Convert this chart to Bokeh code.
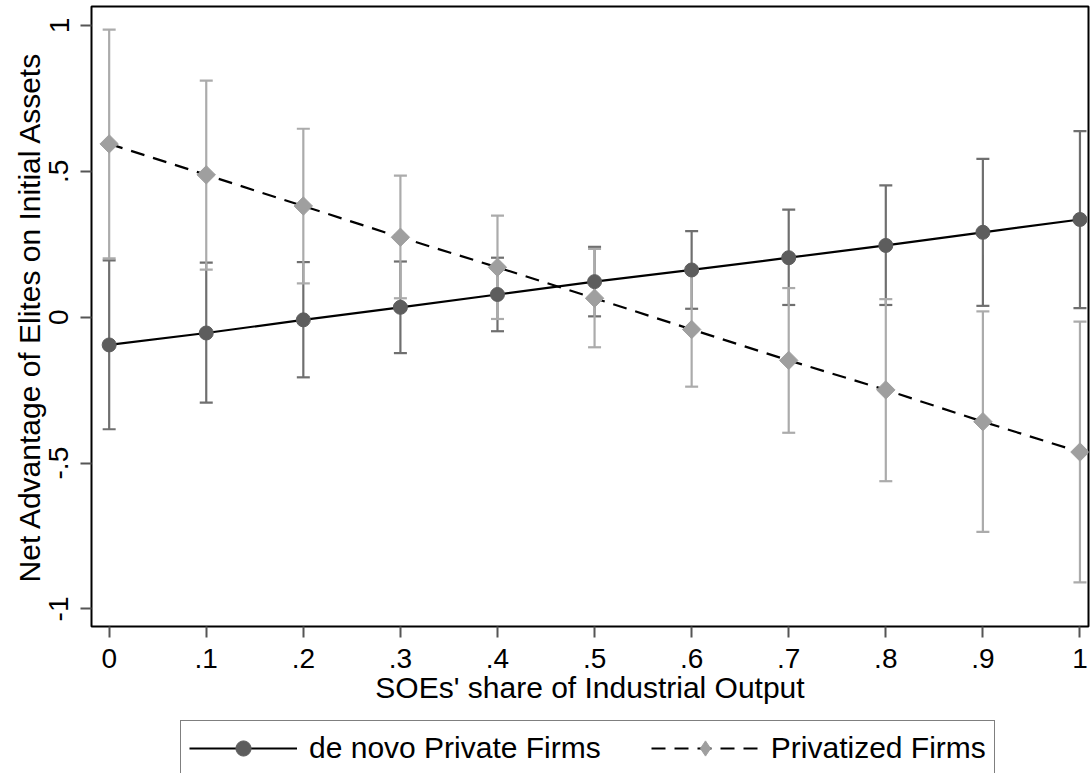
from bokeh.plotting import figure
from bokeh.models import (Range1d, FixedTicker, Whisker, ColumnDataSource, Legend,
                          LegendItem, TeeHead)
from bokeh.layouts import column
from bokeh.embed import file_html
from bokeh.resources import INLINE
import math

# ---- data ----
soe_share = [0.0, 0.1, 0.2, 0.3, 0.4, 0.5, 0.6, 0.7, 0.8, 0.9, 1.0]

denovo = [-0.095, -0.054, -0.009, 0.034, 0.078, 0.122, 0.162, 0.204, 0.246, 0.291, 0.335]
denovo_lo = [-0.384, -0.293, -0.206, -0.123, -0.048, 0.003, 0.029, 0.042, 0.042, 0.039, 0.031]
denovo_hi = [0.195, 0.187, 0.189, 0.191, 0.204, 0.241, 0.295, 0.369, 0.452, 0.543, 0.638]

privatized = [0.594, 0.488, 0.381, 0.274, 0.171, 0.065, -0.042, -0.148, -0.249, -0.358, -0.462]
priv_lo = [0.202, 0.163, 0.116, 0.065, -0.006, -0.103, -0.238, -0.396, -0.562, -0.736, -0.909]
priv_hi = [0.986, 0.811, 0.646, 0.485, 0.348, 0.234, 0.154, 0.100, 0.062, 0.020, -0.015]

x_ticks = [0.0, 0.1, 0.2, 0.3, 0.4, 0.5, 0.6, 0.7, 0.8, 0.9, 1.0]
x_tick_labels = ["0", ".1", ".2", ".3", ".4", ".5", ".6", ".7", ".8", ".9", "1"]
y_ticks = [-1.0, -0.5, 0.0, 0.5, 1.0]
y_tick_labels = ["-1", "-.5", "0", ".5", "1"]

x_title = "SOEs' share of Industrial Output"
y_title = "Net Advantage of Elites on Initial Assets"
series_names = ["de novo Private Firms", "Privatized Firms"]

FONT = "Liberation Sans"
DARK_BAR = "#6f6f6f"
DARK_PT = "#5d5d5d"
LIGHT_BAR = "#ababab"
LIGHT_PT = "#9f9f9f"

src_d = ColumnDataSource(dict(x=soe_share, y=denovo, lo=denovo_lo, hi=denovo_hi))
src_p = ColumnDataSource(dict(x=soe_share, y=privatized, lo=priv_lo, hi=priv_hi))

MAIN_H = 718
LEG_H = 55
LEFT = 91

p = figure(width=1090, height=MAIN_H, output_backend="svg", toolbar_location=None,
           x_range=Range1d(-0.0182, 1.0088), y_range=Range1d(-1.060, 1.065),
           min_border_top=6, min_border_right=2, min_border_left=LEFT,
           min_border_bottom=MAIN_H - 626)
p.background_fill_color = "white"
p.border_fill_color = "white"
p.outline_line_color = "black"
p.outline_line_width = 2
p.xgrid.visible = False
p.ygrid.visible = False

# error bars
for src, col in ((src_d, DARK_BAR), (src_p, LIGHT_BAR)):
    w = Whisker(source=src, base="x", lower="lo", upper="hi", dimension="height",
                line_color=col, line_width=2.2,
                upper_head=TeeHead(size=13, line_color=col, line_width=2.2),
                lower_head=TeeHead(size=13, line_color=col, line_width=2.2),
                level="underlay")
    p.add_layout(w)

p.line("x", "y", source=src_d, line_color="black", line_width=2.2)
p.line("x", "y", source=src_p, line_color="black", line_width=2.2, line_dash="14 9")
p.scatter("x", "y", source=src_d, marker="circle", size=14,
          fill_color=DARK_PT, line_color=DARK_PT)
p.scatter("x", "y", source=src_p, marker="square", size=13, angle=math.pi / 4,
          fill_color=LIGHT_PT, line_color=LIGHT_PT)

# axes
for ax in (p.xaxis[0], p.yaxis[0]):
    ax.axis_line_color = None
    ax.major_tick_line_color = "#555555"
    ax.major_tick_line_width = 2
    ax.major_tick_out = 11
    ax.major_tick_in = 0
    ax.minor_tick_line_color = None
    ax.major_label_text_font = FONT
    ax.major_label_text_color = "black"
    ax.axis_label_text_font = FONT
    ax.axis_label_text_font_style = "normal"
    ax.axis_label_text_color = "black"

p.xaxis.ticker = FixedTicker(ticks=x_ticks)
p.xaxis.major_label_overrides = dict(zip(x_ticks, x_tick_labels))
p.xaxis.major_label_text_font_size = "28px"
p.xaxis.major_label_standoff = 11
p.xaxis.axis_label = x_title
p.xaxis.axis_label_text_font_size = "30px"
p.xaxis.axis_label_standoff = 0

p.yaxis.ticker = FixedTicker(ticks=y_ticks)
p.yaxis.major_label_overrides = dict(zip(y_ticks, y_tick_labels))
p.yaxis.major_label_orientation = "vertical"
p.yaxis.major_label_text_font_size = "28px"
p.yaxis.major_label_standoff = 12
p.yaxis.axis_label = y_title
p.yaxis.axis_label_text_font_size = "30px"
p.yaxis.axis_label_standoff = 1

# ---- legend strip (separate figure below; its sample renderers lie outside its view) ----
q = figure(width=1090, height=LEG_H, output_backend="svg", toolbar_location=None,
           x_axis_type=None, y_axis_type=None,
           x_range=Range1d(5, 6), y_range=Range1d(5, 6),
           min_border_top=0, min_border_right=0, min_border_left=0, min_border_bottom=0)
q.outline_line_color = None
q.background_fill_color = "white"
q.border_fill_color = "white"
r1 = q.line("x", "y", source=src_d, line_color="black", line_width=2.2)
r1m = q.scatter("x", "y", source=src_d, marker="circle", size=14,
                fill_color=DARK_PT, line_color=DARK_PT)
r2 = q.line("x", "y", source=src_p, line_color="black", line_width=2.2, line_dash="14 9")
r2m = q.scatter("x", "y", source=src_p, marker="diamond", size=22,
                fill_color=LIGHT_PT, line_color=LIGHT_PT)

LEG_TOP = 722 - MAIN_H
LEG_BOX_H = 54
legend = Legend(items=[LegendItem(label=series_names[0], renderers=[r1, r1m]),
                       LegendItem(label=series_names[1], renderers=[r2, r2m])],
                orientation="horizontal",
                location=(180 - LEFT, LEG_H - LEG_TOP - LEG_BOX_H))
legend.label_text_font = FONT
legend.label_text_font_size = "30px"
legend.label_text_color = "black"
legend.glyph_width = 108
legend.glyph_height = 38
legend.label_standoff = 12
legend.spacing = 50
legend.padding = 8
legend.margin = 0
legend.border_line_color = "black"
legend.border_line_width = 1.5
legend.background_fill_color = "white"
legend.background_fill_alpha = 1
q.add_layout(legend, "center")

layout = column(p, q, spacing=0)
open("out.html", "w").write(file_html(layout, INLINE))
